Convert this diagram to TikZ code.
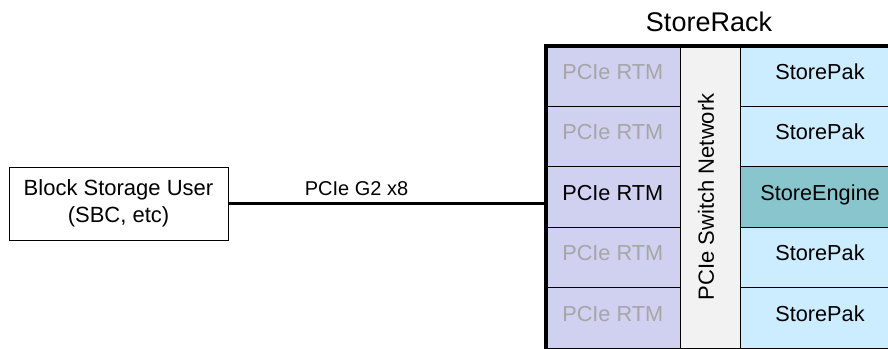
\documentclass[tikz,border=0pt]{standalone}
\usepackage{fontspec}
\setmainfont{Liberation Sans}
\definecolor{rtmfill}{RGB}{208,208,240}
\definecolor{swfill}{RGB}{242,242,242}
\definecolor{pakfill}{RGB}{204,236,255}
\definecolor{engfill}{RGB}{136,197,204}
\definecolor{idletext}{RGB}{166,166,166}
\tikzset{
  cell/.style={draw=black, line width=0.9pt, inner sep=0pt, outer sep=0pt,
    anchor=north west, minimum height=60.5pt, text height=0.716em, text depth=0pt,
    font=\fontsize{21.7}{26}\selectfont},
  rtmcell/.style={cell, fill=rtmfill, minimum width=134.5pt},
  idle/.style={text=idletext},
  pakcell/.style={cell, fill=pakfill, minimum width=159pt},
  engcell/.style={cell, fill=engfill, minimum width=159pt},
  swcell/.style={cell, fill=swfill, minimum width=60.5pt, minimum height=302.5pt},
  userbox/.style={draw=black, line width=1pt, inner sep=0pt, outer sep=0pt,
    minimum width=219pt, minimum height=73pt, align=center,
    font=\fontsize{22}{26.7}\selectfont},
  link/.style={line width=3.6pt},
  linklabel/.style={font=\fontsize{20}{24}\selectfont, anchor=base},
  rackborder/.style={line width=4pt},
}
\begin{document}
\begin{tikzpicture}[x=1pt, y=-1pt]
  \clip (0,0) rectangle (888,348);
  % rack: RTM column, switch column, storage column
  \node[rtmcell, idle] (rtm1) at (545.5,45.5)  {PCIe RTM};
  \node[rtmcell, idle] (rtm2) at (545.5,106)   {PCIe RTM};
  \node[rtmcell]       (rtm3) at (545.5,166.5) {PCIe RTM};
  \node[rtmcell, idle] (rtm4) at (545.5,227)   {PCIe RTM};
  \node[rtmcell, idle] (rtm5) at (545.5,287.5) {PCIe RTM};
  \node[swcell] (sw) at (680,45.5) {};
  \node[rotate=90, text height=0.716em, text depth=0pt, inner sep=0pt,
        font=\fontsize{22}{26}\selectfont] (swlabel) at (sw.center) {PCIe Switch Network};
  \node[pakcell] (pak1) at (740.5,45.5)  {StorePak};
  \node[pakcell] (pak2) at (740.5,106)   {StorePak};
  \node[engcell] (eng)  at (740.5,166.5) {StoreEngine};
  \node[pakcell] (pak3) at (740.5,227)   {StorePak};
  \node[pakcell] (pak4) at (740.5,287.5) {StorePak};
  % rack outline (right and bottom sides run past the frame)
  \draw[rackborder] (rtm1.north west) rectangle ([shift={(12,12)}]pak4.south east);
  \node[font=\fontsize{27}{32}\selectfont, anchor=base] (rack) at (709,31) {StoreRack};
  % host and its link into the active RTM
  \node[userbox] (user) at (118.5,203.5) {Block Storage User\\(SBC, etc)};
  \draw[link] (user.east) -- node[linklabel, pos=0.405, yshift=8pt] (linkname) {PCIe G2 x8}
    (user.east -| rtm3.west);
\end{tikzpicture}
\end{document}
